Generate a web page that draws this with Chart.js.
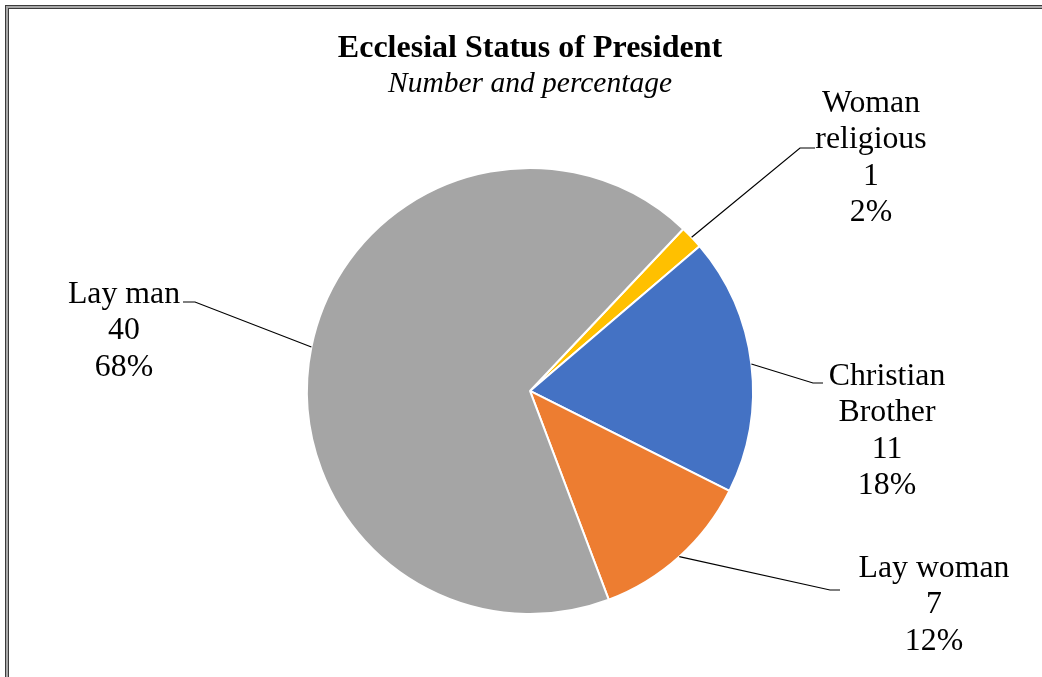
<!DOCTYPE html>
<html>
<head>
<meta charset="utf-8">
<script src="https://cdn.jsdelivr.net/npm/chart.js@4/dist/chart.umd.min.js"></script>
<style>
  html, body { margin:0; padding:0; background:#fff; overflow:hidden; }
  #wrap { position:relative; width:1042px; height:677px; }
  #frame1 { position:absolute; left:5px; top:5px; width:2000px; height:2000px; border-left:1px solid #3c3c3c; border-top:1px solid #3c3c3c; pointer-events:none; }
  #frame2 { width:100%; height:100%; border-left:2px solid #a8a8a8; border-top:2px solid #a8a8a8; }
  #frame3 { width:100%; height:100%; border-left:1px solid #3c3c3c; border-top:1px solid #3c3c3c; }
</style>
</head>
<body>
<div id="wrap">
  <canvas id="pieChart" width="1042" height="677"></canvas>
  <div id="frame1"><div id="frame2"><div id="frame3"></div></div></div>
</div>
<script>
// data
const categories = ['Woman religious', 'Christian Brother', 'Lay woman', 'Lay man'];
const counts = [1, 11, 7, 40];
const pctLabels = ['2%', '18%', '12%', '68%'];
const colors = ['#FFC000', '#4472C4', '#ED7D31', '#A5A5A5'];

const FONT = "'Liberation Serif', 'Times New Roman', serif";

// label placement, offsets from pie centre (px)
const labelPos = [
  { dx: 341, dy: -279, lines: ['Woman', 'religious'], elbow: [270, -243], end: 285 },
  { dx: 357, dy: -6, lines: ['Christian', 'Brother'], elbow: [283, -8], end: 293 },
  { dx: 404, dy: 186, lines: ['Lay woman'], elbow: [300, 199], end: 310 },
  { dx: -406, dy: -88, lines: ['Lay man'], elbow: [-335, -89], end: -347 },
];

const outsideLabels = {
  id: 'outsideLabels',
  afterDatasetsDraw(chart){
    const ctx = chart.ctx;
    const meta = chart.getDatasetMeta(0);
    ctx.save();
    ctx.font = '31.8px ' + FONT;
    ctx.fillStyle = '#000';
    ctx.strokeStyle = '#000';
    ctx.lineWidth = 1.2;
    ctx.textAlign = 'center';
    ctx.textBaseline = 'alphabetic';
    meta.data.forEach((arc, i) => {
      const p = labelPos[i];
      const cx = arc.x, cy = arc.y;
      const mid = (arc.startAngle + arc.endAngle) / 2;
      const r = arc.outerRadius;
      const sx = cx + Math.cos(mid) * r, sy = cy + Math.sin(mid) * r;
      ctx.beginPath();
      ctx.moveTo(sx, sy);
      ctx.lineTo(cx + p.elbow[0], cy + p.elbow[1]);
      ctx.lineTo(cx + p.end, cy + p.elbow[1]);
      ctx.stroke();
      const lines = p.lines.concat([String(counts[i]), pctLabels[i]]);
      lines.forEach((t, k) => {
        ctx.fillText(t, cx + p.dx, cy + p.dy + k * 36.5);
      });
    });
    ctx.restore();
  }
};

const ctx = document.getElementById('pieChart').getContext('2d');
new Chart(ctx, {
  type: 'pie',
  data: {
    labels: categories,
    datasets: [{
      data: counts,
      backgroundColor: colors,
      borderColor: '#ffffff',
      borderWidth: 2,
    }]
  },
  options: {
    responsive: false,
    animation: false,
    rotation: 43.4,
    layout: { padding: { left: 306, right: 288, top: 0, bottom: 62 } },
    plugins: {
      legend: { display: false },
      tooltip: { enabled: false },
      title: {
        display: true,
        text: 'Ecclesial Status of President',
        color: '#000',
        font: { family: FONT, size: 32, weight: 'bold', lineHeight: 1.2 },
        padding: { top: 29.5, bottom: 0 }
      },
      subtitle: {
        display: true,
        text: 'Number and percentage',
        color: '#000',
        font: { family: FONT, size: 29.5, style: 'italic', lineHeight: 1.1 },
        padding: { top: 0, bottom: 66.6 }
      }
    }
  },
  plugins: [outsideLabels]
});
</script>
</body>
</html>
